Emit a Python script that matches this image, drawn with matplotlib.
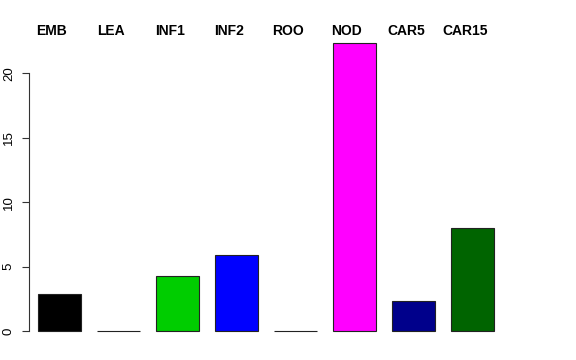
import matplotlib
matplotlib.use("Agg")
import matplotlib.pyplot as plt
import matplotlib.transforms as mtransforms
import numpy as np

plt.rcParams['font.family'] = ['Liberation Sans', 'DejaVu Sans']

# data
tissues = ["EMB", "LEA", "INF1", "INF2", "ROO", "NOD", "CAR5", "CAR15"]
values = [2.87, 0.0, 4.29, 5.92, 0.0, 22.33, 2.35, 8.02]
colors = ["#000000", "#FF0000", "#00CD00", "#0000FF", "#A52A2A",
          "#FF00FF", "#00008B", "#006400"]
yticks = [0, 5, 10, 15, 20]

W, H = 576, 360
fig = plt.figure(figsize=(W / 100, H / 100), dpi=100)
# axes box in pixels: left 29, right 519, top 31.8, bottom 342.5
ax = fig.add_axes([29 / W, (H - 342.5) / H, 490 / W, (342.5 - 31.8) / H])

x = np.arange(len(tissues))
ax.bar(x, values, width=0.72, color=colors, edgecolor="#222222", linewidth=0.8)

ax.set_xlim(-0.517, 7.788)
ax.set_ylim(-0.89, 23.22)

for s in ["top", "right", "bottom"]:
    ax.spines[s].set_visible(False)
ax.spines["left"].set_bounds(0, 20)
ax.spines["left"].set_linewidth(0.8)
ax.spines["left"].set_color("#333333")

ax.set_xticks([])
ax.set_yticks(yticks)
ax.set_yticklabels([str(t) for t in yticks], rotation=90, va="center", fontsize=9.5)
ax.tick_params(axis="y", length=5.2, width=0.8, pad=5, color="#333333")

# tissue names along the top, slightly left of each bar
trans = mtransforms.blended_transform_factory(ax.transData, fig.transFigure)
for xi, name in zip(x, tissues):
    ax.text(xi - 0.13, (H - 35) / H, name, transform=trans,
            ha="center", va="baseline", fontsize=10, fontweight="bold")

fig.savefig("out.png", dpi=100)
